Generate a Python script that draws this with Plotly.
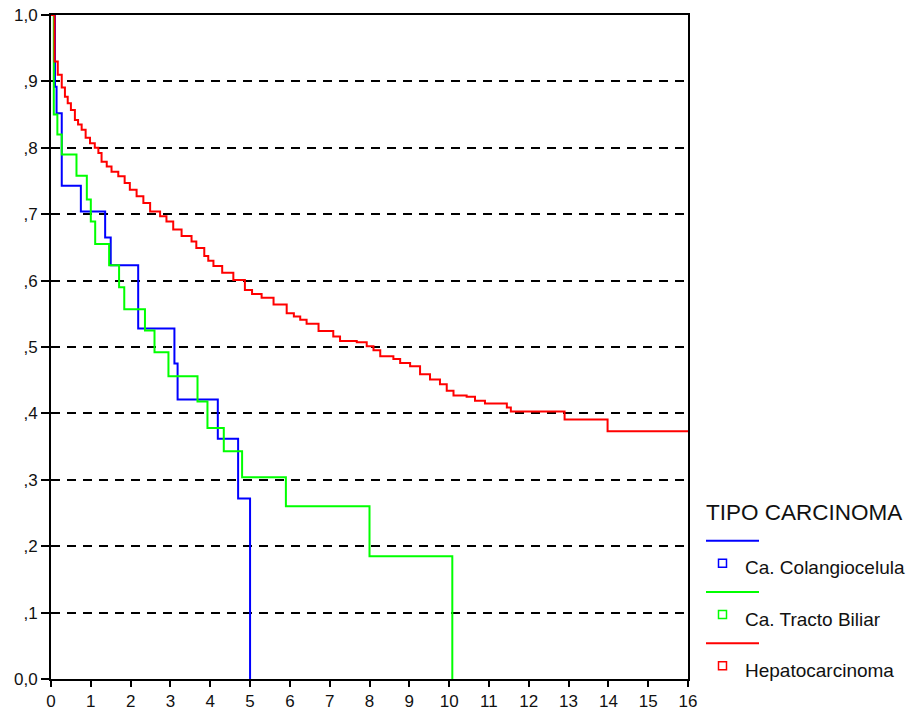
import plotly.graph_objects as go

# ---- data (time in years, cumulative survival) ----
colang_t = [0, 0.10, 0.14, 0.27, 0.75, 1.36, 1.50, 2.19, 3.10, 3.18, 4.19, 4.70, 5.0]
colang_s = [1.0, 0.892, 0.852, 0.743, 0.704, 0.665, 0.623, 0.528, 0.475, 0.421, 0.362, 0.272, 0.0]

biliar_t = [0, 0.07, 0.16, 0.27, 0.64, 0.90, 1.00, 1.11, 1.46, 1.71, 1.84, 2.36, 2.60, 2.95,
            3.68, 3.93, 4.34, 4.80, 5.90, 8.00, 10.08]
biliar_s = [1.0, 0.85, 0.82, 0.79, 0.758, 0.722, 0.689, 0.655, 0.623, 0.590, 0.557, 0.525, 0.492, 0.456,
            0.418, 0.378, 0.343, 0.304, 0.260, 0.185, 0.0]

hepato_t = [0, 0.09, 0.17, 0.27, 0.35, 0.42, 0.50, 0.60, 0.68, 0.77, 0.87, 0.98, 1.10, 1.19, 1.27,
            1.40, 1.52, 1.69, 1.85, 1.98, 2.15, 2.32, 2.49, 2.74, 2.90, 3.07, 3.28, 3.53, 3.65,
            3.85, 3.95, 4.08, 4.30, 4.58, 4.87, 5.05, 5.29, 5.59, 5.92, 6.10, 6.26, 6.42, 6.72,
            7.09, 7.26, 7.68, 7.93, 8.10, 8.27, 8.60, 8.77, 9.02, 9.27, 9.52, 9.77, 9.94, 10.11,
            10.44, 10.65, 10.90, 11.45, 11.55, 12.90, 13.98, 16.0]
hepato_s = [1.0, 0.93, 0.91, 0.891, 0.877, 0.867, 0.857, 0.842, 0.835, 0.827, 0.815, 0.807, 0.800, 0.792, 0.779,
            0.772, 0.764, 0.757, 0.747, 0.737, 0.727, 0.717, 0.704, 0.697, 0.689, 0.677, 0.667, 0.659, 0.649,
            0.637, 0.630, 0.622, 0.612, 0.601, 0.586, 0.580, 0.574, 0.564, 0.551, 0.546, 0.541, 0.535, 0.524,
            0.516, 0.509, 0.507, 0.501, 0.495, 0.486, 0.482, 0.476, 0.471, 0.459, 0.451, 0.444, 0.434, 0.427,
            0.425, 0.419, 0.415, 0.409, 0.403, 0.391, 0.373, 0.373]

series_names = ["Ca. Colangiocelula", "Ca. Tracto Biliar", "Hepatocarcinoma"]
series_colors = ["#0000FF", "#00FF00", "#FF0000"]
legend_title = "TIPO CARCINOMA"

x_ticks = list(range(0, 17))
y_ticks = [0, 0.1, 0.2, 0.3, 0.4, 0.5, 0.6, 0.7, 0.8, 0.9, 1.0]
y_ticktext = ["0,0", ",1", ",2", ",3", ",4", ",5", ",6", ",7", ",8", ",9", "1,0"]

FONT = "Liberation Sans, Arial, sans-serif"
W, H = 917, 713
ML, MR, MT, MB = 51, 229, 15, 34
PW = W - ML - MR
PH = H - MT - MB


def px(xp):
    return (xp - ML) / PW


def py(yp):
    return (H - MB - yp) / PH


fig = go.Figure()
for t, s, name, col in zip([colang_t, biliar_t, hepato_t], [colang_s, biliar_s, hepato_s],
                           series_names, series_colors):
    fig.add_trace(go.Scatter(x=t, y=s, mode="lines", line=dict(color=col, width=2, shape="hv"),
                             name=name, showlegend=False, hoverinfo="skip", cliponaxis=False))

shapes = []
annotations = []
annotations.append(dict(x=px(704), y=py(512), xref="paper", yref="paper", text=legend_title,
                        showarrow=False, xanchor="left", yanchor="middle",
                        font=dict(family=FONT, size=22.5, color="#111")))
for i, (name, col) in enumerate(zip(series_names, series_colors)):
    ly = 540.7 + i * 51.3
    shapes.append(dict(type="line", xref="paper", yref="paper", x0=px(706), x1=px(759),
                       y0=py(ly), y1=py(ly), line=dict(color=col, width=2)))
    sy = ly + 22.5
    shapes.append(dict(type="rect", xref="paper", yref="paper", x0=px(718.5), x1=px(726.5),
                       y0=py(sy - 4), y1=py(sy + 4), line=dict(color=col, width=1.5),
                       fillcolor="white"))
    annotations.append(dict(x=px(743), y=py(ly + 27), xref="paper", yref="paper", text=name,
                            showarrow=False, xanchor="left", yanchor="middle",
                            font=dict(family=FONT, size=19, color="#111")))

fig.update_layout(
    width=W, height=H,
    margin=dict(l=ML, r=MR, t=MT, b=MB, pad=0, autoexpand=False),
    paper_bgcolor="white", plot_bgcolor="white",
    font=dict(family=FONT, size=16, color="#111"),
    shapes=shapes, annotations=annotations,
    showlegend=False,
)
fig.update_xaxes(range=[0, 16], tickvals=x_ticks, showgrid=False, zeroline=False,
                 showline=True, linecolor="black", linewidth=2, mirror=True,
                 ticks="outside", ticklen=6, tickwidth=2, tickcolor="black", automargin=False,
                 tickfont=dict(family=FONT, size=17, color="#111"))
fig.update_yaxes(range=[0, 1], tickvals=y_ticks, ticktext=y_ticktext, showgrid=True,
                 gridcolor="black", gridwidth=2, griddash="9px,7px", zeroline=False,
                 showline=True, linecolor="black", linewidth=2, mirror=True,
                 ticks="outside", ticklen=8, tickwidth=2, tickcolor="black", automargin=False,
                 tickfont=dict(family=FONT, size=17, color="#111"))

fig.write_html("out.html", config={"displayModeBar": False},
               post_script="document.body.style.margin='0';document.body.style.overflow='hidden';")
